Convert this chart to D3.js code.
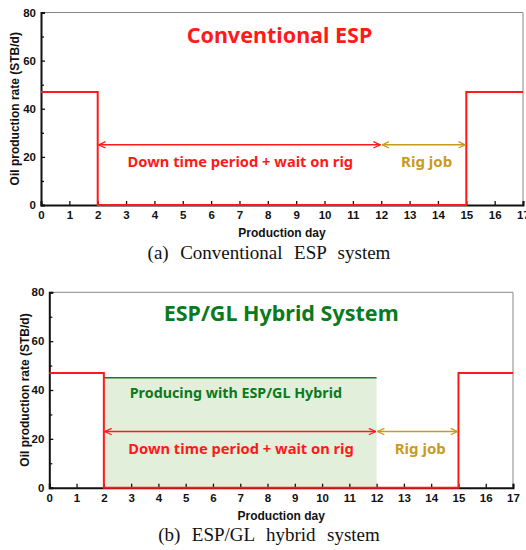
<!DOCTYPE html>
<html><head><meta charset="utf-8">
<script src="https://cdn.jsdelivr.net/npm/d3@7"></script>
<style>body{margin:0;background:#fff}svg{display:block}</style>
</head><body>
<script>
// ---- data ----
const dayTicks = d3.range(0, 18);
const rateTicks = [0, 20, 40, 60, 80];
const rateMinorTicks = [10, 30, 50, 70];
const stepDays = [0, 2, 2, 15, 15, 17];
const stepRates = [47, 47, 0, 0, 47, 47];
const hybridDays = [2, 12];
const hybridRate = 45;
const downPeriod = [2, 12];
const rigPeriod = [12, 15];
const panelTitles = ["Conventional ESP", "ESP/GL Hybrid System"];
const captions = ["(a)  Conventional  ESP  system", "(b)  ESP/GL  hybrid  system"];
const arrowRates = [25, 23];

const W = 526, H = 550;
const svg = d3.select("body").append("svg").attr("width", W).attr("height", H);

const RED = "#ff1a1a", GOLD = "#c89b1e", GREEN = "#0b7a1c", DKGREEN = "#2a6e35", FILL = "#e2efda";

const defs = svg.append("defs");
function marker(id, color) {
  defs.append("marker").attr("id", id).attr("viewBox", "0 0 10 10")
    .attr("refX", 9.5).attr("refY", 5).attr("markerWidth", 8).attr("markerHeight", 8)
    .attr("markerUnits", "userSpaceOnUse").attr("orient", "auto-start-reverse")
    .append("path").attr("d", "M1,1 L9.5,5 L1,9").attr("fill", "none")
    .attr("stroke", color).attr("stroke-width", 1.6);
}
marker("arRed", RED); marker("arGold", GOLD);

const panels = [
  {left: 41, right: 523, top: 12.5, bottom: 205, hybrid: false, titleColor: RED,
   titleX: 8.41, titleY: 70.5, downTextY: 17.9, ylabX: 15, capY: 259},
  {left: 49.3, right: 513, top: 292.3, bottom: 487.7, hybrid: true, titleColor: GREEN,
   titleX: 8.5, titleY: 71.5, downTextY: 15.8, ylabX: 25, capY: 541}
];

panels.forEach((p, i) => {
  const x = d3.scaleLinear().domain([0, 17]).range([p.left, p.right]);
  const y = d3.scaleLinear().domain([0, 80]).range([p.bottom, p.top]);
  const g = svg.append("g");

  if (p.hybrid) {
    g.append("rect").attr("x", x(hybridDays[0])).attr("y", y(hybridRate))
      .attr("width", x(hybridDays[1]) - x(hybridDays[0])).attr("height", y(0) - y(hybridRate))
      .attr("fill", FILL);
    g.append("line").attr("x1", x(hybridDays[0])).attr("x2", x(hybridDays[1]))
      .attr("y1", y(hybridRate)).attr("y2", y(hybridRate))
      .attr("stroke", DKGREEN).attr("stroke-width", 1.6);
  }

  // frame top/right
  g.append("path").attr("d", `M${x(0)},${y(80)}H${x(17)}V${y(0)}`)
    .attr("fill", "none").attr("stroke", "#888").attr("stroke-width", 1);

  // x axis
  g.append("g").attr("transform", `translate(0,${y(0)})`)
    .call(d3.axisBottom(x).tickValues(dayTicks).tickSize(-4).tickPadding(6).tickFormat(d3.format("d")));
  // y axis
  g.append("g").attr("transform", `translate(${x(0)},0)`)
    .call(d3.axisLeft(y).tickValues(rateTicks).tickSize(-4).tickPadding(5));
  g.append("g").attr("transform", `translate(${x(0)},0)`)
    .call(d3.axisLeft(y).tickValues(rateMinorTicks).tickSize(-3).tickFormat(""))
    .select(".domain").remove();
  g.selectAll(".domain").attr("stroke", "#111").attr("stroke-width", 2);
  g.selectAll(".tick line").attr("stroke", "#111").attr("stroke-width", 1.3);
  g.selectAll(".tick text").attr("font-family", "Liberation Sans, Arial, sans-serif")
    .attr("font-weight", "bold").attr("font-size", 11.5).attr("fill", "#111");

  // step line
  const line = d3.line().x(d => x(d[0])).y(d => y(d[1]));
  g.append("path").datum(stepDays.map((d, k) => [d, stepRates[k]]))
    .attr("d", line).attr("fill", "none").attr("stroke", RED).attr("stroke-width", 2);

  // arrows
  const ar = arrowRates[i];
  g.append("line").attr("x1", x(downPeriod[0]) + 1).attr("x2", x(downPeriod[1]) - 1)
    .attr("y1", y(ar)).attr("y2", y(ar)).attr("stroke", RED).attr("stroke-width", 1.5)
    .attr("marker-start", "url(#arRed)").attr("marker-end", "url(#arRed)");
  g.append("line").attr("x1", x(rigPeriod[0]) + 1).attr("x2", x(rigPeriod[1]) - 1)
    .attr("y1", y(ar)).attr("y2", y(ar)).attr("stroke", GOLD).attr("stroke-width", 1.5)
    .attr("marker-start", "url(#arGold)").attr("marker-end", "url(#arGold)");

  const tf = "Noto Sans, Open Sans, sans-serif";
  g.append("text").attr("x", x(7.03)).attr("y", y(p.downTextY)).attr("dy", "0.35em")
    .attr("text-anchor", "middle").attr("font-family", tf).attr("font-weight", "bold")
    .attr("font-size", 14.7).attr("fill", RED).text("Down time period + wait on rig");
  g.append("text").attr("x", x(13.6)).attr("y", y(p.downTextY)).attr("dy", "0.35em")
    .attr("text-anchor", "middle").attr("font-family", tf).attr("font-weight", "bold")
    .attr("font-size", 15).attr("fill", GOLD).text("Rig job");
  if (p.hybrid) {
    g.append("text").attr("x", x(6.84)).attr("y", y(38.6)).attr("dy", "0.35em")
      .attr("text-anchor", "middle").attr("font-family", tf).attr("font-weight", "bold")
      .attr("font-size", 14.3).attr("fill", GREEN).text("Producing with ESP/GL Hybrid");
  }
  g.append("text").attr("x", x(p.titleX)).attr("y", y(p.titleY)).attr("dy", "0.35em")
    .attr("text-anchor", "middle").attr("font-family", tf).attr("font-weight", "bold")
    .attr("font-size", 21.5).attr("fill", p.titleColor).text(panelTitles[i]);

  // axis titles
  g.append("text").attr("x", (p.left + p.right) / 2).attr("y", p.bottom + 32)
    .attr("text-anchor", "middle").attr("font-family", "Liberation Sans, Arial, sans-serif")
    .attr("font-weight", "bold").attr("font-size", 12).attr("fill", "#111").text("Production day");
  g.append("text").attr("transform", `translate(${p.ylabX},${(p.top + p.bottom) / 2}) rotate(-90)`)
    .attr("text-anchor", "middle").attr("dy", "0.35em").attr("font-family", "Liberation Sans, Arial, sans-serif")
    .attr("font-weight", "bold").attr("font-size", 12).attr("fill", "#111").text("Oil production rate (STB/d)");

  // caption
  g.append("text").attr("x", 269).attr("y", p.capY).attr("text-anchor", "middle")
    .attr("font-family", "Liberation Serif, Times New Roman, serif").attr("font-size", 19)
    .attr("word-spacing", 1).attr("fill", "#111").style("white-space", "pre").text(captions[i]);
});
</script>
</body></html>
